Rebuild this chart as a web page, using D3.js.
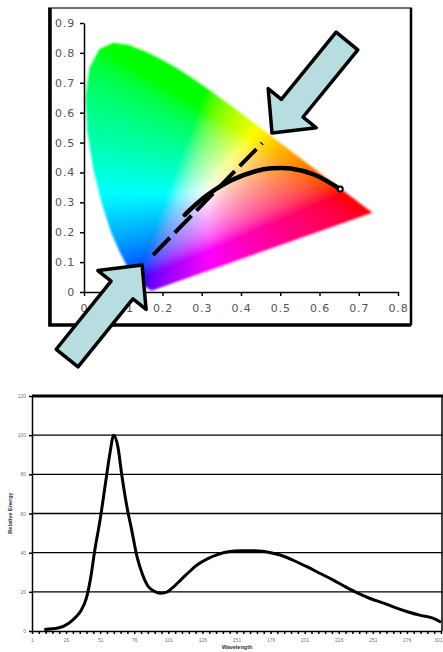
<!DOCTYPE html>
<html>
<head>
<meta charset="utf-8">
<script src="https://cdn.jsdelivr.net/npm/d3@7/dist/d3.min.js"></script>
<style>
  body { margin: 0; background: #fff; }
  svg { display: block; }
</style>
</head>
<body>
<div id="chart"></div>
<script>
// CIE 1931 spectral locus (x, y), 380..700 nm
const locusX = [0.1741, 0.1733, 0.1714, 0.1689, 0.1644, 0.1566, 0.1440, 0.1355, 0.1241, 0.1096, 0.0913, 0.0687, 0.0454, 0.0235, 0.0082, 0.0039, 0.0139, 0.0389, 0.0743, 0.1142, 0.1547, 0.1929, 0.2296, 0.2658, 0.3016, 0.3373, 0.3731, 0.4087, 0.4441, 0.4788, 0.5125, 0.5448, 0.5752, 0.6029, 0.6270, 0.6658, 0.6915, 0.7079, 0.7190, 0.7260, 0.7300, 0.7334, 0.7347];
const locusY = [0.0050, 0.0048, 0.0051, 0.0069, 0.0109, 0.0177, 0.0297, 0.0399, 0.0578, 0.0868, 0.1327, 0.2007, 0.2950, 0.4127, 0.5384, 0.6548, 0.7502, 0.8120, 0.8338, 0.8262, 0.8059, 0.7816, 0.7543, 0.7243, 0.6923, 0.6589, 0.6245, 0.5896, 0.5547, 0.5202, 0.4866, 0.4544, 0.4242, 0.3965, 0.3725, 0.3340, 0.3083, 0.2920, 0.2809, 0.2740, 0.2700, 0.2666, 0.2653];

// black body curve, 20000K down to 1000K
const planckX = [0.2565, 0.2637, 0.2807, 0.2952, 0.3064, 0.3221, 0.3451, 0.3805, 0.4369, 0.4770, 0.5267, 0.5857, 0.6528];
const planckY = [0.2577, 0.2673, 0.2883, 0.3048, 0.3166, 0.3318, 0.3516, 0.3768, 0.4041, 0.4137, 0.4133, 0.3931, 0.3444];

// dashed guide line
const guideX = [0.176, 0.454];
const guideY = [0.124, 0.498];

// arrows: tip and tail in chromaticity units
const arrowTipX = [0.479, 0.148];
const arrowTipY = [0.532, 0.090];
const arrowTailX = [0.670, -0.043];
const arrowTailY = [0.840, -0.221];

const cieXTicks = [0, 0.1, 0.2, 0.3, 0.4, 0.5, 0.6, 0.7, 0.8];
const cieYTicks = [0, 0.1, 0.2, 0.3, 0.4, 0.5, 0.6, 0.7, 0.8, 0.9];

// spectrum
const sample = [10, 20, 28, 33, 37, 41, 44, 47, 51, 55, 58, 61, 64, 67, 71, 74, 78, 82, 86, 90, 95, 99, 104, 110, 116, 122, 130, 137, 145, 154, 162, 170, 177, 183, 193, 203, 212, 222, 231, 240, 249, 259, 268, 277, 286, 295, 301];
const energy = [0.8, 1.5, 4, 7, 10.5, 17, 27, 41, 57, 76, 90, 100, 94, 79, 62, 52, 38, 29, 23, 20.5, 19.3, 19.6, 22, 26, 30, 33.7, 37, 39, 40.5, 41, 41, 40.7, 39.8, 38.8, 36, 32.7, 29.5, 26, 22.5, 19.3, 16.6, 14.2, 11.8, 9.7, 8, 6.6, 4.5];
const energyTicks = [0, 20, 40, 60, 80, 100, 120];
const sampleLabels = [1, 26, 51, 76, 101, 126, 151, 176, 201, 226, 251, 276, 301];

const width = 443, height = 652;

const svg = d3.select("#chart")
  .append("svg")
  .attr("width", width)
  .attr("height", height);

// ---------- top: chromaticity diagram ----------
const x = d3.scaleLinear().domain([0, 0.8]).range([84, 398]);
const y = d3.scaleLinear().domain([0, 0.9]).range([292, 23]);

// frame
svg.append("rect")
  .attr("x", 49).attr("y", 8)
  .attr("width", 362).attr("height", 317)
  .attr("fill", "#fff")
  .attr("stroke", "#444")
  .attr("stroke-width", 1.5);
svg.append("path")
  .attr("d", "M50,8V325H411")
  .attr("fill", "none")
  .attr("stroke", "#000")
  .attr("stroke-width", 3.5);
svg.append("line")
  .attr("x1", 411).attr("x2", 411).attr("y1", 8).attr("y2", 325)
  .attr("stroke", "#000").attr("stroke-width", 2.5);

// colour fill of the horseshoe
const x0 = Math.floor(x(-0.03)), x1 = Math.ceil(x(0.78));
const y0 = Math.floor(y(0.87)), y1 = Math.ceil(y(-0.02));
const cw = x1 - x0, ch = y1 - y0;
const canvas = document.createElement("canvas");
canvas.width = cw; canvas.height = ch;
const ctx = canvas.getContext("2d");
const img = ctx.createImageData(cw, ch);
const gam = v => v <= 0.0031308 ? 12.92 * v : 1.055 * Math.pow(v, 1 / 2.4) - 0.055;
for (let j = 0; j < ch; j++) {
  for (let i = 0; i < cw; i++) {
    const cx = Math.max(x.invert(x0 + i + 0.5), 0.003);
    const cy = Math.max(y.invert(y0 + j + 0.5), 0.004);
    const X = cx / cy, Y = 1, Z = Math.max(1 - cx - cy, 0) / cy;
    let r = 3.2406 * X - 1.5372 * Y - 0.4986 * Z;
    let g = -0.9689 * X + 1.8758 * Y + 0.0415 * Z;
    let b = 0.0557 * X - 0.2040 * Y + 1.0570 * Z;
    r = Math.max(r, 0); g = Math.max(g, 0); b = Math.max(b, 0);
    const m = Math.max(r, g, b, 1e-6);
    const k = (j * cw + i) * 4;
    img.data[k] = 255 * gam(r / m);
    img.data[k + 1] = 255 * gam(g / m);
    img.data[k + 2] = 255 * gam(b / m);
    img.data[k + 3] = 255;
  }
}
ctx.putImageData(img, 0, 0);

const defs = svg.append("defs");
const locusLine = d3.line().x(d => x(d[0])).y(d => y(d[1])).curve(d3.curveLinearClosed);
const locus = locusX.map((v, i) => [v, locusY[i]]);
defs.append("clipPath").attr("id", "horseshoe")
  .append("path").attr("d", locusLine(locus));
defs.append("filter").attr("id", "soft")
  .append("feGaussianBlur").attr("stdDeviation", 0.8);
defs.append("filter").attr("id", "smooth")
  .attr("x", 0).attr("y", 0).attr("width", 1).attr("height", 1)
  .append("feGaussianBlur").attr("stdDeviation", 3).attr("edgeMode", "duplicate");

svg.append("g")
  .attr("filter", "url(#soft)")
  .append("g")
  .attr("clip-path", "url(#horseshoe)")
  .append("image")
  .attr("x", x0).attr("y", y0)
  .attr("width", cw).attr("height", ch)
  .attr("filter", "url(#smooth)")
  .attr("href", canvas.toDataURL());

// axes
const tickFont = g => g.selectAll("text")
  .attr("font-family", "DejaVu Sans, sans-serif")
  .attr("font-size", 11)
  .attr("letter-spacing", 0.8)
  .attr("fill", "#555");

svg.append("g")
  .attr("transform", `translate(0,${y(0)})`)
  .call(d3.axisBottom(x).tickValues(cieXTicks).tickSize(4).tickSizeOuter(0).tickPadding(8)
    .tickFormat(d => d === 0 ? "0" : d3.format(".1f")(d)))
  .call(g => g.select(".domain").attr("stroke-width", 1.5))
  .call(g => g.selectAll("line").attr("stroke-width", 1.5))
  .call(tickFont);

svg.append("g")
  .attr("transform", `translate(${x(0)},0)`)
  .call(d3.axisLeft(y).tickValues(cieYTicks).tickSize(4).tickSizeOuter(0).tickPadding(5)
    .tickFormat(d => d === 0 ? "0" : d3.format(".1f")(d)))
  .call(g => g.select(".domain").attr("stroke-width", 1.5))
  .call(g => g.selectAll("line").attr("stroke-width", 1.5))
  .call(tickFont);

// dashed guide
svg.append("line")
  .attr("x1", x(guideX[0])).attr("y1", y(guideY[0]))
  .attr("x2", x(guideX[1])).attr("y2", y(guideY[1]))
  .attr("stroke", "#000")
  .attr("stroke-width", 4)
  .attr("stroke-dasharray", "24 7");

// black body curve
const planck = planckX.map((v, i) => [v, planckY[i]]);
svg.append("path")
  .attr("d", d3.line().x(d => x(d[0])).y(d => y(d[1])).curve(d3.curveCatmullRom)(planck))
  .attr("fill", "none")
  .attr("stroke", "#000")
  .attr("stroke-width", 4.5)
  .attr("stroke-linecap", "round");
svg.append("circle")
  .attr("cx", x(planckX[planckX.length - 1]))
  .attr("cy", y(planckY[planckY.length - 1]))
  .attr("r", 2.5)
  .attr("fill", "#fff")
  .attr("stroke", "#000")
  .attr("stroke-width", 2);

// arrows
function arrowPath(tx, ty, bx, by) {
  const shaftW = 28, headW = 62, headL = 32;
  const dx = tx - bx, dy = ty - by, len = Math.hypot(dx, dy);
  const ux = dx / len, uy = dy / len, nx = -uy, ny = ux;
  const hx = tx - ux * headL, hy = ty - uy * headL;
  const p = [
    [bx + nx * shaftW / 2, by + ny * shaftW / 2],
    [hx + nx * shaftW / 2, hy + ny * shaftW / 2],
    [hx + nx * headW / 2, hy + ny * headW / 2],
    [tx, ty],
    [hx - nx * headW / 2, hy - ny * headW / 2],
    [hx - nx * shaftW / 2, hy - ny * shaftW / 2],
    [bx - nx * shaftW / 2, by - ny * shaftW / 2]
  ];
  return "M" + p.map(d => d.join(",")).join("L") + "Z";
}
svg.selectAll(".arrow")
  .data(arrowTipX.map((v, i) => i))
  .enter()
  .append("path")
  .attr("class", "arrow")
  .attr("d", i => arrowPath(x(arrowTipX[i]), y(arrowTipY[i]), x(arrowTailX[i]), y(arrowTailY[i])))
  .attr("fill", "#b7dde0")
  .attr("stroke", "#000")
  .attr("stroke-width", 3.5)
  .attr("stroke-linejoin", "round");

// ---------- bottom: spectrum ----------
const sx = d3.scaleLinear().domain([1, 301]).range([32, 441]);
const sy = d3.scaleLinear().domain([0, 120]).range([631, 396]);

const plot = svg.append("g");

plot.selectAll(".grid")
  .data(energyTicks.filter(d => d > 0))
  .enter()
  .append("line")
  .attr("x1", sx(1)).attr("x2", width)
  .attr("y1", d => sy(d)).attr("y2", d => sy(d))
  .attr("stroke", "#000")
  .attr("stroke-width", d => d === 120 ? 3 : 1.4);

plot.append("line")
  .attr("x1", width - 1).attr("x2", width - 1)
  .attr("y1", sy(120)).attr("y2", sy(0))
  .attr("stroke", "#000").attr("stroke-width", 1.5);

const smallFont = g => g.selectAll("text")
  .attr("font-family", "Liberation Sans, Arial, sans-serif")
  .attr("font-size", 5)
  .attr("fill", "#777");

plot.append("g")
  .attr("transform", `translate(0,${sy(0)})`)
  .call(d3.axisBottom(sx).tickValues(d3.range(1, 302, 5)).tickSize(3).tickSizeOuter(0).tickPadding(4)
    .tickFormat(d => sampleLabels.includes(d) ? d : ""))
  .call(g => g.select(".domain").attr("stroke-width", 1.5))
  .call(g => g.selectAll("line").attr("stroke-width", 1.5))
  .call(smallFont)
  .call(g => g.selectAll("text").filter(d => d === 301).attr("text-anchor", "end").attr("dx", 1));

plot.append("g")
  .attr("transform", `translate(${sx(1)},0)`)
  .call(d3.axisLeft(sy).tickValues(energyTicks).tickSize(3).tickSizeOuter(0).tickPadding(3))
  .call(g => g.select(".domain").attr("stroke-width", 1.5))
  .call(g => g.selectAll("line").attr("stroke-width", 1.5))
  .call(smallFont);

const spectrum = sample.map((v, i) => [v, energy[i]]);
plot.append("path")
  .attr("d", d3.line().x(d => sx(d[0])).y(d => sy(d[1])).curve(d3.curveMonotoneX)(spectrum))
  .attr("fill", "none")
  .attr("stroke", "#000")
  .attr("stroke-width", 3);

plot.append("text")
  .attr("x", 237).attr("y", 649)
  .attr("text-anchor", "middle")
  .attr("font-family", "Liberation Sans, Arial, sans-serif")
  .attr("font-size", 5.5)
  .attr("font-weight", "bold")
  .attr("fill", "#333")
  .text("Wavelength");

plot.append("text")
  .attr("transform", "translate(12,513) rotate(-90)")
  .attr("text-anchor", "middle")
  .attr("font-family", "Liberation Sans, Arial, sans-serif")
  .attr("font-size", 5.5)
  .attr("font-weight", "bold")
  .attr("fill", "#333")
  .text("Relative Energy");
</script>
</body>
</html>
